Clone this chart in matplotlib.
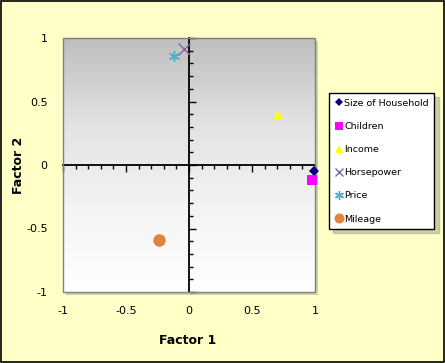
import matplotlib
matplotlib.use('Agg')
from matplotlib import pyplot as plt
from matplotlib.patches import Rectangle
from matplotlib.ticker import MultipleLocator
import numpy as np

names = ['Size of Household', 'Children', 'Income', 'Horsepower', 'Price', 'Mileage']
factor1 = [0.99, 0.975, 0.71, -0.04, -0.12, -0.24]
factor2 = [-0.05, -0.12, 0.39, 0.91, 0.86, -0.59]
markers = ['D', 's', '^', 'x', (6, 2, 0), 'o']
colors = ['#000080', '#FF00FF', '#FFFF00', '#8064A2', '#4BACC6', '#E0843C']
sizes = [5, 7, 7, 8, 8, 9]


def main():
    plt.rcParams['font.family'] = ['DejaVu Sans']
    fig = plt.figure(figsize=(4.45, 3.63), dpi=100, facecolor='#FFFFC8')
    fig.patches.append(Rectangle((0.002, 0.003), 0.995, 0.994, transform=fig.transFigure,
                                 fill=False, edgecolor='black', lw=1.2))

    rect = [63 / 445, 1 - 292 / 363, 252 / 445, 254 / 363]
    # shadow behind plot area
    fig.patches.append(Rectangle((rect[0] + 0.007, rect[1] - 0.009), rect[2], rect[3],
                                 transform=fig.transFigure, facecolor='#B0B098',
                                 edgecolor='none', alpha=0.6, zorder=-1))
    ax = fig.add_axes(rect)
    ax.set_zorder(2)
    ax.set_xlim(-1, 1)
    ax.set_ylim(-1, 1)

    grad = np.linspace(0, 1, 256).reshape(-1, 1)
    ax.imshow(grad, extent=[-1, 1, -1, 1], aspect='auto', origin='lower',
              cmap=matplotlib.colors.LinearSegmentedColormap.from_list(
                  'g', ['#FFFFFF', '#F4F4F4', '#E2E2E2', '#BEBEBE']), zorder=0)

    for s in ['top', 'right']:
        ax.spines[s].set_visible(False)
    ax.spines['left'].set_position(('data', 0))
    ax.spines['bottom'].set_position(('data', 0))
    ax.spines['left'].set_linewidth(1.3)
    ax.spines['bottom'].set_linewidth(1.3)
    # box frame
    ax.add_patch(Rectangle((0, 0), 1, 1, transform=ax.transAxes, fill=False,
                           edgecolor='#808080', lw=1, zorder=5, clip_on=False))

    ax.xaxis.set_major_locator(MultipleLocator(0.5))
    ax.xaxis.set_minor_locator(MultipleLocator(0.1))
    ax.yaxis.set_major_locator(MultipleLocator(0.5))
    ax.yaxis.set_minor_locator(MultipleLocator(0.1))
    ax.tick_params(axis='x', which='major', direction='out', length=5, width=1,
                   labelbottom=False)
    ax.tick_params(axis='x', which='minor', direction='out', length=3, width=1)
    ax.tick_params(axis='y', which='major', direction='in', length=5, width=1,
                   labelleft=False)
    ax.tick_params(axis='y', which='minor', direction='in', length=3, width=1)

    sx = ax.secondary_xaxis(0.0)
    sx.set_xticks([-1, -0.5, 0, 0.5, 1], ['-1', '-0.5', '0', '0.5', '1'])
    sx.tick_params(length=0, labelsize=8, pad=10)
    sx.spines['bottom'].set_visible(False)
    sy = ax.secondary_yaxis(0.0)
    sy.set_yticks([-1, -0.5, 0, 0.5, 1], ['-1', '-0.5', '0', '0.5', '1'])
    sy.tick_params(length=0, labelsize=8, pad=11)
    sy.spines['left'].set_visible(False)

    fig.text(188 / 445, 1 - 340 / 363, 'Factor 1', fontsize=9, fontweight='bold',
             ha='center', va='center')
    fig.text(19 / 445, 1 - 165 / 363, 'Factor 2', fontsize=9, fontweight='bold',
             ha='center', va='center', rotation=90)

    for i in range(len(names)):
        ax.plot(factor1[i], factor2[i], linestyle='none', marker=markers[i],
                color=colors[i], markersize=sizes[i], label=names[i],
                markeredgewidth=1 if markers[i] in ('x', (6, 2, 0)) else 0,
                clip_on=False, zorder=6)

    handles, labels = ax.get_legend_handles_labels()
    leg = fig.legend(handles, labels, loc='upper left',
                     bbox_to_anchor=(329 / 445, 1 - 93 / 363),
                     fontsize=6.8, frameon=True, fancybox=False,
                     shadow={'ox': 3, 'oy': -3, 'color': '#A0A088'},
                     edgecolor='black', labelspacing=1.5, handlelength=0.9,
                     handletextpad=0.1, borderpad=0.6, borderaxespad=0,
                     markerscale=0.8)
    leg.get_frame().set_linewidth(1)

    fig.savefig('out.png', dpi=100, facecolor=fig.get_facecolor())


if __name__ == '__main__':
    main()
